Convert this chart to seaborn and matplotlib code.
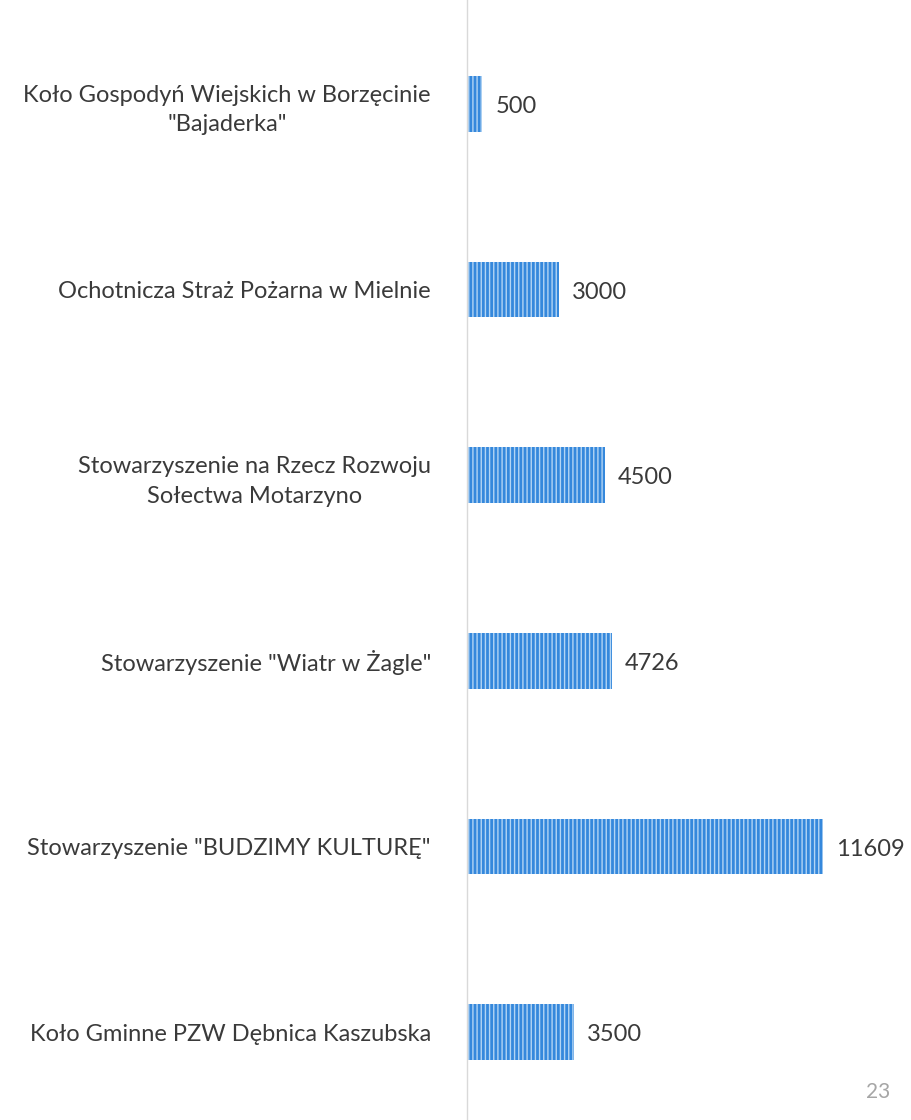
import matplotlib
matplotlib.use('Agg')
from matplotlib import pyplot as plt
import seaborn as sns
import pandas as pd

# values
organizations = [
    'Koło Gospodyń Wiejskich w Borzęcinie\n"Bajaderka"',
    'Ochotnicza Straż Pożarna w Mielnie',
    'Stowarzyszenie na Rzecz Rozwoju\nSołectwa Motarzyno',
    'Stowarzyszenie "Wiatr w Żagle"',
    'Stowarzyszenie "BUDZIMY KULTURĘ"',
    'Koło Gminne PZW Dębnica Kaszubska',
]
amounts = [500, 3000, 4500, 4726, 11609, 3500]
page_number = "23"

df = pd.DataFrame({"org": organizations, "amount": amounts})

sns.set_style("white")
plt.rcParams['font.family'] = ['Lato', 'DejaVu Sans']
plt.rcParams['hatch.linewidth'] = 1.0

text_color = '#3a3a3a'

fig = plt.figure(figsize=(9.11, 11.2), dpi=100)
ax = fig.add_axes([467 / 911, 0, (890 - 467) / 911, 1])

sns.barplot(data=df, x="amount", y="org", orient="h", ax=ax,
            color='#3588dc', width=0.3, saturation=1)

for bar in ax.patches:
    bar.set_hatch('||||')
    bar.set_edgecolor('#b3d5f4')
    bar.set_linewidth(0)

for bar, val in zip(ax.patches, amounts):
    ax.text(bar.get_width() + 420, bar.get_y() + bar.get_height() / 2 + 0.015, str(val),
            ha='left', va='center', fontsize=17, color=text_color)

ax.set_xlim(0, 13780)
ax.set_ylim(5.474, -0.56)
ax.set_xlabel('')
ax.set_ylabel('')
ax.set_xticks([])
for s in ['top', 'right', 'bottom']:
    ax.spines[s].set_visible(False)
ax.spines['left'].set_color('#d9d9d9')
ax.spines['left'].set_linewidth(1)

ax.tick_params(axis='y', length=0, pad=26, labelsize=17, labelcolor=text_color)
for lbl in ax.get_yticklabels():
    lbl.set_multialignment('center')
    lbl.set_linespacing(1.5)

fig.text(890 / 911, 1 - 1092 / 1120, page_number, ha='right', va='center',
         fontsize=15, color='#a6a6a6')

fig.savefig('out.png', dpi=100)
